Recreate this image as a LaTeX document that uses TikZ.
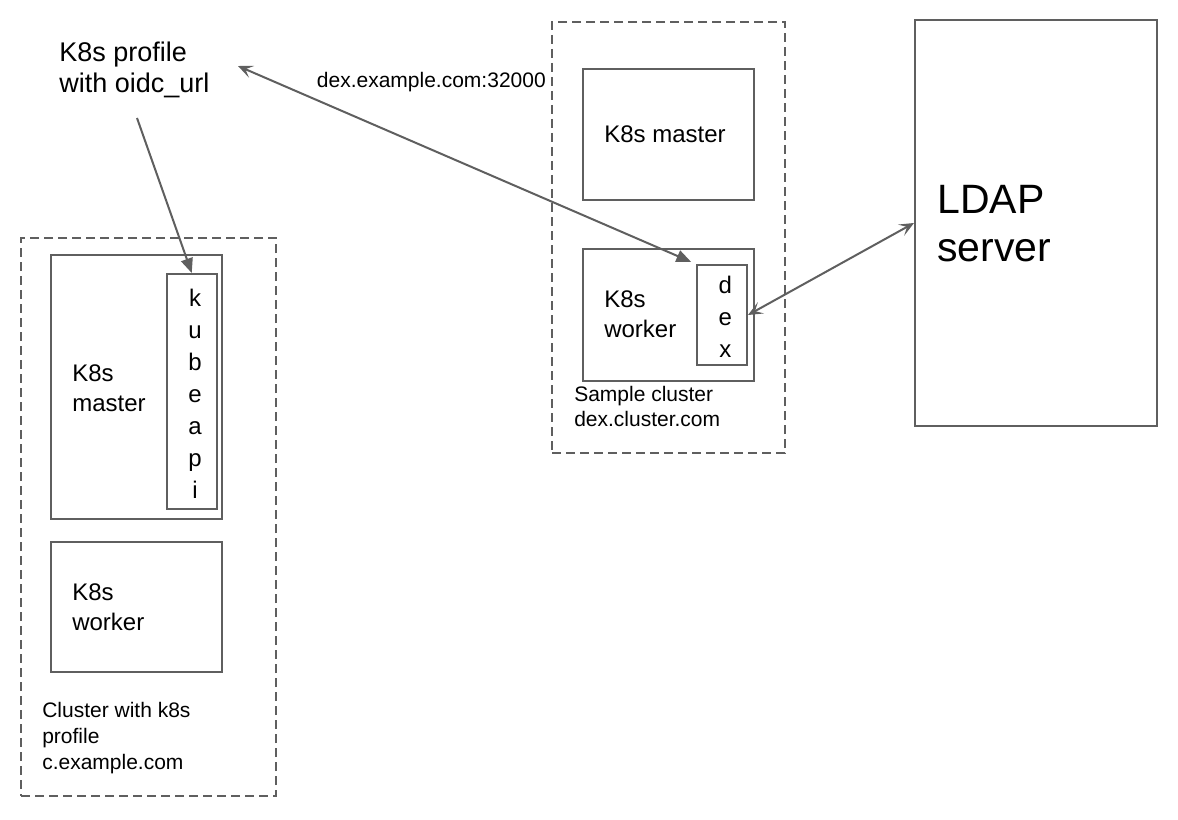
\documentclass[tikz,border=0pt]{standalone}
\usepackage{fontspec}
\setmainfont{Liberation Sans}
\usetikzlibrary{arrows.meta,fit}
\definecolor{linegray}{HTML}{5F5F5F}
\tikzset{
  barbhead/.tip={Stealth[length=11pt,width=9.5pt,inset=5pt]},
  solidhead/.tip={Triangle[length=11pt,width=9pt]}
}
\begin{document}
\begin{tikzpicture}[x=0.75pt,y=0.75pt,
  box/.style={draw=linegray,line width=1.5pt,inner sep=0pt},
  cluster/.style={box,dash pattern=on 6.75pt off 3.75pt},
  conn/.style={draw=linegray,line width=1.5pt},
  txt/.style={inner sep=0pt,anchor=base west,align=left},
  smalltxt/.style={txt,font=\fontsize{15.75}{18.75}\selectfont},
  midtxt/.style={txt,font=\fontsize{18}{22.5}\selectfont},
  letters/.style={align=center,inner sep=0pt,xshift=2.5pt,yshift=-1.5pt,font=\fontsize{18}{24}\selectfont}]
	\useasboundingbox (0,0) rectangle (1178,-820);
	\node [midtxt,font=\fontsize{20.25}{23.25}\selectfont] (profile) at (59,-92.7) {K8s profile\\with oidc\_url};
	\coordinate (oidc tail) at (137,-118);
	\coordinate (oidc tip) at (238,-66);
	\node [cluster,fit={(21,-238) (276,-796)}] (c cluster) {};
	\node [box,fit={(51,-255) (222,-519)}] (c master) {};
	\node [box,fit={(167,-274) (216.5,-509)}] (kubeapi) {};
	\node [letters] (kubeapi label) at (kubeapi.center) {k\\u\\b\\e\\a\\p\\i};
	\node [midtxt] (c master label) at (72,-411.7) {K8s\\master};
	\node [box,fit={(51,-542) (222,-672)}] (c worker) {};
	\node [midtxt] (c worker label) at (72,-630) {K8s\\worker};
	\node [smalltxt,font=\fontsize{15.75}{19.3}\selectfont] (c cluster label) at (42,-769) {Cluster with k8s\\profile\\c.example.com};
	\node [cluster,fit={(552,-22) (785,-453)}] (dex cluster) {};
	\node [box,fit={(583,-69) (754,-200)}] (dex master) {};
	\node [midtxt] (dex master label) at (604,-143) {K8s master};
	\node [box,fit={(583,-249) (754,-381)}] (dex worker) {};
	\node [midtxt] (dex worker label) at (604,-337.7) {K8s\\worker};
	\node [box,fit={(697,-265) (747,-365)}] (dex) {};
	\node [letters] (dex label) at (dex.center) {d\\e\\x};
	\node [smalltxt] (dex cluster label) at (574,-426.7) {Sample cluster\\dex.cluster.com};
	\node [box,fit={(915,-20) (1157,-426)}] (ldap) {};
	\node [txt,font=\fontsize{30.75}{36.5}\selectfont] (ldap label) at (937,-261.7) {LDAP\\server};
	\draw [conn,-solidhead] (oidc tail) -- (kubeapi.north);
	\draw [conn,barbhead-solidhead,shorten >=4pt] (oidc tip) -- (dex.north west);
	\node [smalltxt,anchor=base east] (port) at (546,-88) {dex.example.com:32000};
	\draw [conn,barbhead-barbhead] (dex.east) -- (ldap.west);
\end{tikzpicture}
\end{document}
